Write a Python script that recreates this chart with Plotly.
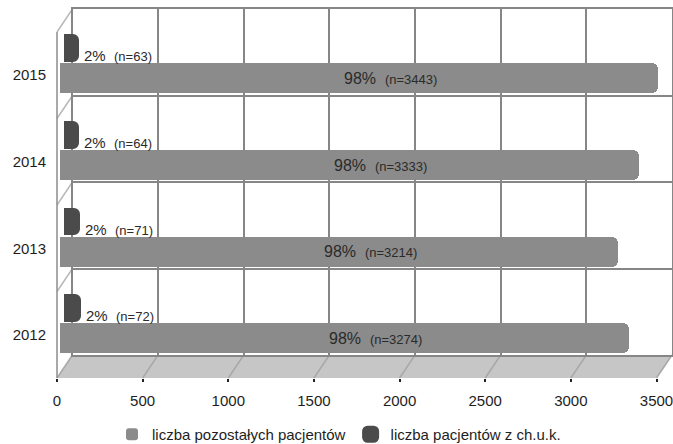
import plotly.graph_objects as go

# --- data -------------------------------------------------------------
years = ["2012", "2013", "2014", "2015"]
other_patients = [3274, 3214, 3333, 3443]   # liczba pozostałych pacjentów
chd_patients = [72, 71, 64, 63]             # liczba pacjentów z ch.u.k.
x_ticks = [0, 500, 1000, 1500, 2000, 2500, 3000, 3500]
x_max = 3500

series_names = ["liczba pozostałych pacjentów", "liczba pacjentów z ch.u.k."]

# --- page geometry (pixels) ---------------------------------------------
W, H = 673, 444
FONT = "Liberation Sans, Arial, sans-serif"


def px(x):
    return x / W


def py(y):
    return 1 - y / H


# back wall of the pseudo-3D box, and depth offset towards the viewer
BACK_L, BACK_R, BACK_T, BACK_B = 72.5, 672.0, 9.0, 355.0
DX, DY = -15.5, 23.0
FRONT_L, FRONT_R = BACK_L + DX, BACK_R + DX

# vertical scale of the category axis: row i sits at pixel ROW0 - ROW_STEP*i
ROW0, ROW_STEP = 335.0, 86.67
y_lo, y_hi = (ROW0 - H) / ROW_STEP, ROW0 / ROW_STEP

rows = list(range(len(years)))
totals = [a + b for a, b in zip(other_patients, chd_patients)]
pct_other = [round(100 * a / t) for a, t in zip(other_patients, totals)]
pct_chd = [round(100 * b / t) for b, t in zip(chd_patients, totals)]

LIGHT, DARK = "#8b8b8b", "#4b4b4b"

fig = go.Figure()

# empty traces so the back-wall grid and the front value axis get drawn
fig.add_trace(go.Scatter(x=[], y=[], xaxis="x", yaxis="y",
                         showlegend=False, hoverinfo="skip"))
fig.add_trace(go.Scatter(x=[], y=[], xaxis="x4", yaxis="y3",
                         showlegend=False, hoverinfo="skip"))

# main bars
fig.add_trace(go.Bar(
    x=other_patients, y=rows, orientation="h",
    xaxis="x2", yaxis="y2",
    offset=-0.213, width=0.346,
    marker=dict(color=LIGHT, cornerradius=6, line=dict(width=0)),
    name=series_names[0], hoverinfo="x+name",
))
# small dark bars
fig.add_trace(go.Bar(
    x=chd_patients, y=rows, orientation="h",
    xaxis="x3", yaxis="y2",
    offset=0.195, width=0.23,
    marker=dict(color=DARK, cornerradius=2, line=dict(width=8, color=DARK)),
    name=series_names[1], hoverinfo="x+name",
))

annotations = []
for i, v, p in zip(rows, other_patients, pct_other):
    annotations.append(dict(
        xref="x2", yref="y2", x=v / 2, y=i - 0.04, xshift=31,
        text=f"{p}%&nbsp;&nbsp;<span style='font-size:13px'>(n={v})</span>",
        showarrow=False, xanchor="center", yanchor="middle",
        font=dict(family=FONT, size=16, color="#2a2a2a"),
    ))
for i, v, p in zip(rows, chd_patients, pct_chd):
    annotations.append(dict(
        xref="x3", yref="y2", x=v, y=i + 0.22, xshift=7,
        text=f"{p}%&nbsp;&nbsp;<span style='font-size:13px'>(n={v})</span>",
        showarrow=False, xanchor="left", yanchor="middle",
        font=dict(family=FONT, size=15, color="#2a2a2a"),
    ))

# --- box decoration: floor and left side wall ---------------------------
shapes = []


def poly(points, fill):
    path = "M " + " L ".join(f"{px(x):.5f},{py(y):.5f}" for x, y in points) + " Z"
    return dict(type="path", xref="paper", yref="paper", path=path,
                fillcolor=fill, line=dict(width=0), layer="below")


def seg(x0, y0, x1, y1, color, width=1.5):
    return dict(type="line", xref="paper", yref="paper",
                x0=px(x0), y0=py(y0), x1=px(x1), y1=py(y1),
                line=dict(color=color, width=width), layer="below")


shapes.append(poly([(BACK_L, BACK_B), (BACK_R, BACK_B),
                    (BACK_R + DX, BACK_B + DY), (BACK_L + DX, BACK_B + DY)], "#c6c6c6"))
shapes.append(poly([(BACK_L + DX, BACK_T + DY), (BACK_L, BACK_T),
                    (BACK_L, BACK_B), (BACK_L + DX, BACK_B + DY)], "#ffffff"))
for t in x_ticks:
    xb = BACK_L + t * (BACK_R - BACK_L) / x_max
    shapes.append(seg(xb, BACK_B, xb + DX, BACK_B + DY, "#a8a8a8"))
for k in range(len(years)):
    yb = BACK_T + k * (BACK_B - BACK_T) / len(years)
    shapes.append(seg(BACK_L, yb, BACK_L + DX, yb + DY, "#b8b8b8"))
shapes.append(seg(FRONT_L, BACK_T + DY, FRONT_L, BACK_B + DY, "#8c8c8c"))

grid_col = "#868686"

fig.update_layout(
    width=W, height=H,
    margin=dict(l=0, r=0, t=0, b=0, autoexpand=False),
    paper_bgcolor="white", plot_bgcolor="rgba(0,0,0,0)",
    barmode="overlay", bargap=0,
    font=dict(family=FONT, size=15, color="#1e1e1e"),
    # back wall grid
    xaxis=dict(domain=[px(BACK_L), px(BACK_R)], range=[0, x_max],
               tickvals=x_ticks, showticklabels=False, ticks="",
               showgrid=True, gridcolor=grid_col, gridwidth=2,
               showline=True, mirror=True, linecolor=grid_col, linewidth=2,
               zeroline=False, fixedrange=True),
    yaxis=dict(domain=[py(BACK_B), py(BACK_T)], range=[0, len(years)],
               tickvals=list(range(len(years) + 1)), showticklabels=False, ticks="",
               showgrid=True, gridcolor=grid_col, gridwidth=2,
               showline=True, mirror=True, linecolor=grid_col, linewidth=2,
               zeroline=False, fixedrange=True),
    # bars
    xaxis2=dict(domain=[px(60), px(668)], range=[0, x_max], anchor="y2",
                visible=False, fixedrange=True),
    xaxis3=dict(domain=[px(64), px(672)], range=[0, x_max], anchor="y2",
                visible=False, fixedrange=True),
    yaxis2=dict(domain=[0, 1], range=[y_lo, y_hi], anchor="free",
                position=px(FRONT_L), side="left",
                tickvals=rows, ticktext=years, ticks="", ticklabelstandoff=11,
                showgrid=False, showline=False, zeroline=False,
                tickfont=dict(size=15, color="#1e1e1e"), fixedrange=True),
    # front value axis
    xaxis4=dict(domain=[px(FRONT_L), px(FRONT_R)], range=[0, x_max], anchor="y3",
                tickvals=x_ticks, ticks="outside", ticklen=3, tickwidth=1.5,
                tickcolor="#222222", ticklabelstandoff=6, ticklabeloverflow="allow",
                showgrid=False, showline=False, zeroline=False,
                tickfont=dict(size=15, color="#1e1e1e"), fixedrange=True),
    yaxis3=dict(domain=[py(BACK_B + DY), py(BACK_T)], range=[0, 1],
                anchor="x4", visible=False, fixedrange=True),
    legend=dict(orientation="h", x=px(112), xanchor="left",
                y=py(418), yanchor="top",
                font=dict(size=15, color="#1e1e1e"),
                bgcolor="rgba(0,0,0,0)", itemclick=False, itemdoubleclick=False),
    showlegend=True,
    shapes=shapes,
    annotations=annotations,
)

fig.write_html("out.html")
